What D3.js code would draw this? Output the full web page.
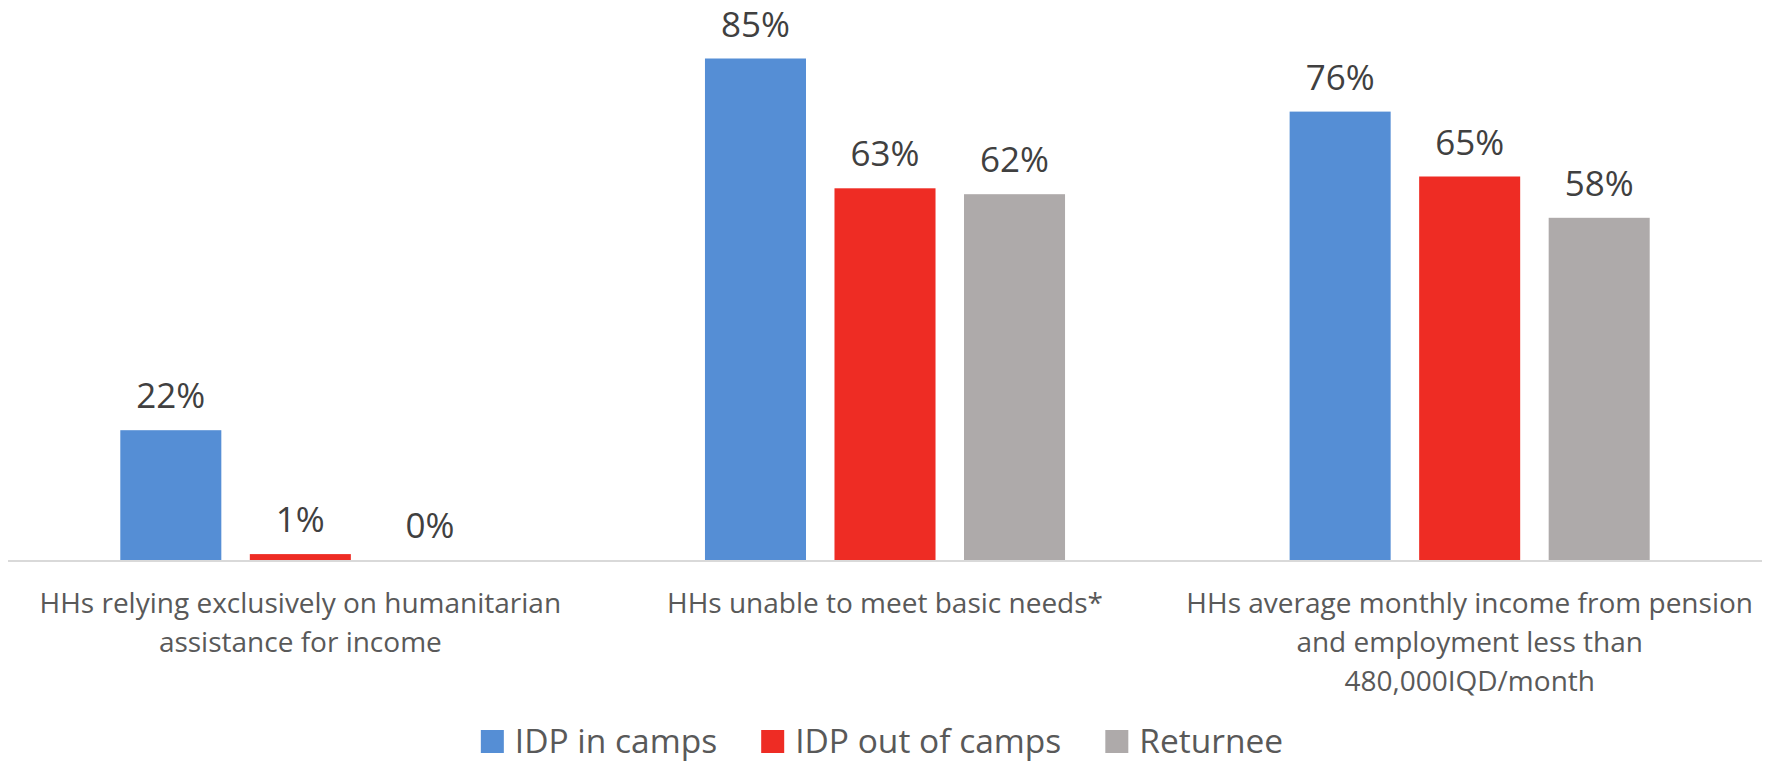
<!DOCTYPE html>
<html>
<head>
<meta charset="utf-8">
<style>
  body { margin: 0; background: #fff; }
  text { font-family: "Open Sans", "Noto Sans", sans-serif; }
</style>
</head>
<body>
<svg width="1766" height="763"></svg>
<script src="https://cdn.jsdelivr.net/npm/d3@7"></script>
<script>

// chart data
var categories = ["humanitarian", "basic", "income"];
var categoryLines = [
  ["HHs relying exclusively on humanitarian", "assistance for income"],
  ["HHs unable to meet basic needs*"],
  ["HHs average monthly income from pension", "and employment less than", "480,000IQD/month"]
];
var series = ["IDP in camps", "IDP out of camps", "Returnee"];
var colors = ["#558ED5", "#EE2C24", "#AEAAAA"];
var idpInCamps    = [22, 85, 76];
var idpOutOfCamps = [1, 63, 65];
var returnee      = [0, 62, 58];

var values = [idpInCamps, idpOutOfCamps, returnee];

var svg = d3.select("svg"),
    width = +svg.attr("width"),
    height = +svg.attr("height");

var baseline = 560;

var x0 = d3.scaleBand()
    .domain(categories)
    .range([8, 1762]);

var x1 = d3.scaleBand()
    .domain(series)
    .range([0, x0.bandwidth()])
    .paddingInner(0.22)
    .paddingOuter(0.867);

var y = d3.scaleLinear()
    .domain([0, 90])
    .range([baseline, baseline - 531]);

var color = d3.scaleOrdinal().domain(series).range(colors);

// flatten into one row per bar
var rows = [];
categories.forEach(function(c, i) {
  series.forEach(function(s, j) {
    rows.push({cat: c, ser: s, val: values[j][i]});
  });
});

var bars = svg.append("g");

bars.selectAll("rect")
  .data(rows)
  .enter().append("rect")
    .attr("x", function(d) { return x0(d.cat) + x1(d.ser); })
    .attr("y", function(d) { return y(d.val); })
    .attr("width", x1.bandwidth())
    .attr("height", function(d) { return baseline - y(d.val); })
    .attr("fill", function(d) { return color(d.ser); });

// value labels
bars.selectAll("text")
  .data(rows)
  .enter().append("text")
    .attr("x", function(d) { return x0(d.cat) + x1(d.ser) + x1.bandwidth() / 2; })
    .attr("y", function(d) { return y(d.val) - 22; })
    .attr("text-anchor", "middle")
    .attr("font-size", "35px")
    .attr("fill", "#404040")
    .text(function(d) { return d.val + "%"; });

// axis line
svg.append("line")
    .attr("x1", x0.range()[0])
    .attr("x2", x0.range()[1])
    .attr("y1", baseline + 1)
    .attr("y2", baseline + 1)
    .attr("stroke", "#D9D9D9")
    .attr("stroke-width", 2);

// category labels
var cats = svg.append("g");
categories.forEach(function(c, i) {
  var t = cats.append("text")
      .attr("text-anchor", "middle")
      .attr("font-size", "28px")
      .attr("fill", "#595959");
  categoryLines[i].forEach(function(line, k) {
    t.append("tspan")
      .attr("x", x0(c) + x0.bandwidth() / 2)
      .attr("y", 613 + k * 39)
      .text(line);
  });
});

// legend
var legend = svg.append("g").attr("class", "legend");
var items = legend.selectAll("g")
  .data(series)
  .enter().append("g");

items.append("rect")
    .attr("width", 23)
    .attr("height", 23)
    .attr("y", 730)
    .attr("fill", function(d) { return color(d); });

items.append("text")
    .attr("x", 34)
    .attr("y", 753)
    .attr("font-size", "33.5px")
    .attr("fill", "#595959")
    .text(function(d) { return d; });

var pos = 0, gap = 44;
items.each(function() {
  var g = d3.select(this);
  g.attr("transform", "translate(" + pos + ",0)");
  pos += 34 + g.select("text").node().getComputedTextLength() + gap;
});
var total = pos - gap;
legend.attr("transform", "translate(" + (882 - total / 2) + ",0)");

</script>
</body>
</html>
